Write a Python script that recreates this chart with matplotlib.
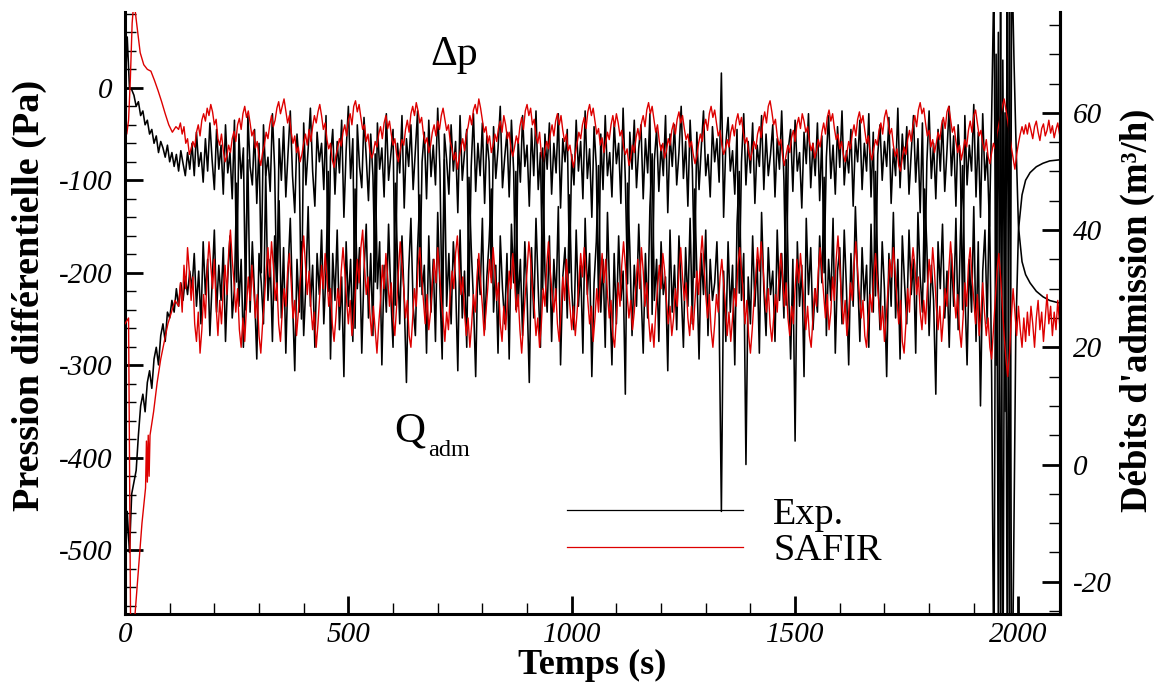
import numpy as np
import matplotlib
matplotlib.use("Agg")
import matplotlib.pyplot as plt
from matplotlib.ticker import MultipleLocator
from matplotlib.lines import Line2D

plt.rcParams['font.family'] = ['Liberation Serif', 'DejaVu Serif']

# ---------------- data ----------------
# Experimental differential pressure (Pa), 5 s sampling from t=0 to 1985 s
exp_t0, exp_dt = 0, 5
dp_exp = [
    -5, 55, 0, -2, -8, -20, -15, -30, -25, -40, -35, -50, -45, -60, -52, -70, -58, -65, -75, -62,
    -80, -70, -85, -72, -90, -68, -82, -95, -70, -88,
    -60, -95, -48, -85, -70, -102, -55, -90, -38, -78, -110, -45, -88, -62, -115, -40, -92, -70, -120, -35,
    -210, -50, -98, -65, -240, -30, -85, -105, -45, -125, -60, -200, -40, -95, -75, -112, -28, -88, -230, -55,
    -100, -42, -118, -70, -25, -95, -135, -50, -82, -250, -38, -105, -66, -22, -90, -128, -48, -80, -60, -110,
    -30, -220, -75, -45, -115, -58, -92, -35, -140, -68, -20, -98, -55, -260, -40, -85, -108, -32, -75, -122,
    -50, -95, -210, -38, -88, -65, -118, -28, -100, -72, -45, -235, -60, -92, -30, -130, -55, -85, -40, -110,
    -68, -25, -215, -80, -48, -120, -35, -96, -62, -105, -22, -88, -250, -50, -78, -115, -40, -90, -58, -135,
    -30, -100, -70, -45, -225, -85, -28, -112, -60, -95, -38, -125, -52, -80, -205, -42, -98, -66, -20, -108,
    -75, -48, -118, -35, -90, -240, -55, -102, -30, -85, -62, -128, -44, -95, -25, -110, -70, -218, -50, -88,
    -38, -115, -60, -92, -28, -130, -55, -80, -45, -200, -72, -105, -35, -90, -58, -120, -25, -98, -66, -140,
    -42, -85, -230, -50, -110, -30, -95, -70, -118, -38, -82, -60, -125, -22, -100, -212, -48, -88, -35, -108,
    -65, -40, -120, -55, -92, -28, -245, -78, -45, -112, -62, -95, -30, -135, -50, -85, -40, -105, -70, -20,
    -98, -58, -128, -35, -88, -205, -48, -110, -65, -25, -95, -72, -118, -42, -80, -55, -102, 16, -140, -60,
    -32, -90, -68, -115, -45, -222, -80, -28, -105, -58, -92, -38, -125, -62, -85, -30, -110, -50, -95, -72,
    -40, -118, -55, -88, -25, -100, -235, -65, -45, -112, -35, -90, -70, -130, -48, -82, -28, -108, -60, -95,
    -38, -122, -52, -200, -75, -30, -98, -62, -115, -42, -86, -25, -105, -68, -92, -45, -128, -55, -80, -35,
    -110, -60, -90, -28, -118, -48, -225, -72, -40, -100, -58, -85, -32, -125, -66, -95, -22, -108, -50, -88,
    -42, -115, -70, -30, -102, -55, -135, -38, -210, -80, -25, -98, -60, -120, -45, -90, -35, -112, -68, -20,
    -95, -52, -128, -40, -85, -240, -30, -105, -62, -90, -18, -118, -48, -140, -28, -100, -70, -150,
    -30, 120, -300, 60, -600, 30, -350, 100, -620, 150,
]
# after fan shutdown (explicit times)
dp_exp_tail_t = [1990, 1994, 2000, 2008, 2016, 2026, 2040, 2055, 2070, 2094]
dp_exp_tail = [30, -50, -150, -188, -202, -211, -220, -226, -230, -233]

# Experimental admission flow rate (m3/h), 5 s sampling from t=0 to 1985 s
q_exp = [
    -20, -8, -15, -5, -3, -1, 5, 10, 12, 9, 14, 16, 13, 18, 20, 17, 22, 24, 21, 26,
    25, 28, 26, 30, 27, 31, 28, 32, 29, 33,
    30, 36, 27, 33, 24, 38, 29, 35, 22, 31, 40, 26, 34, 28, 37, 21, 32, 39, 25, 30,
    48, 27, 35, 20, 33, 52, 26, 38, 29, 18, 36, 31, 24, 50, 28, 35, 21, 39, 30, 45,
    25, 37, 19, 33, 42, 28, 16, 35, 26, 38, 22, 31, 44, 27, 34, 20, 36, 29, 40, 24,
    33, 50, 18, 36, 28, 40, 23, 32, 15, 38, 27, 35, 21, 47, 30, 37, 19, 33, 41, 25,
    36, 22, 53, 30, 38, 17, 34, 26, 41, 29, 20, 48, 35, 24, 39, 28, 14, 33, 42, 27,
    22, 37, 46, 29, 34, 19, 39, 26, 35, 21, 43, 30, 18, 52, 27, 36, 24, 38, 31, 16,
    40, 25, 33, 20, 49, 37, 28, 15, 35, 29, 42, 23, 32, 38, 47, 26, 34, 19, 39, 30,
    24, 36, 18, 41, 31, 50, 27, 35, 22, 38, 29, 14, 37, 25, 42, 30, 20, 54, 33, 26,
    39, 21, 35, 28, 44, 17, 32, 37, 25, 46, 30, 23, 40, 27, 34, 19, 42, 29, 36, 15,
    31, 38, 51, 26, 35, 20, 43, 29, 17, 36, 24, 39, 28, 33, 12, 48, 37, 22, 34, 27,
    41, 30, 19, 36, 25, 44, 53, 28, 35, 21, 38, 29, 32, 16, 40, 26, 34, 23, 39, 30,
    20, 37, 27, 42, 24, 47, 33, 18, 36, 29, 40, 22, 35, 28, 31, 38, 25, -8, 33, 21,
    38, 26, 34, 17, 41, 50, 28, 36, 0, 32, 24, 39, 27, 35, 19, 43, 30, 22, 37, 29,
    33, 21, 40, 28, 36, 25, 52, 31, 18, 35, 4, 38, 27, 34, 15, 42, 29, 37, 23, 30,
    26, 39, 31, 49, 22, 35, 28, 42, 19, 33, 37, 24, 40, 30, 17, 36, 27, 44, 32, 21,
    37, 28, 34, 20, 41, 26, 50, 33, 23, 38, 30, 15, 36, 27, 43, 25, 35, 18, 39, 31,
    24, 40, 29, 35, 19, 43, 32, 26, 47, 37, 22, 34, 28, 12, 38, 30, 41, 25, 33, 20,
    36, 27, 42, 23, 39, 51, 30, 17, 35, 26, 44, 21, 38, 10, 33, 40, 24, 46,
    15, -40, 70, -30, 85, -45, 60, -35, 90, -50,
]
q_exp_tail_t = [1990, 1994, 2000, 2008, 2016, 2026, 2040, 2055, 2070, 2094]
q_exp_tail = [-10, 22, 40, 46, 48.5, 49.8, 50.8, 51.4, 51.8, 52]

# SAFIR differential pressure (Pa): start-up points, then 4 s sampling from t=120 s
dp_safir_start_t = [0, 4, 8, 12, 16, 20, 26, 34, 42, 50, 58, 66, 74, 82, 90, 98, 106, 114]
dp_safir_start = [-10, -50, -35, 10, 70, 95, 70, 38, 25, 20, 18, 8, -3, -15, -28, -40, -48, -42]
safir_t0, safir_dt = 120, 4
dp_safir = [
    -45, -38, -50, -42, -60, -55, -72, -66, -58, -64, -48, -40, -52, -35, -28, -36, -22, -30, -18, -26, -40, -34, -55, -62, -50,
    -68, -80, -74, -62, -70, -55, -47, -58, -40, -33, -45, -28, -20, -32, -25, -38, -52, -46, -65, -58, -75, -84, -70, -62, -48,
    -55, -40, -30, -42, -35, -22, -15, -28, -20, -12, -25, -38, -30, -48, -60, -52, -70, -64, -80, -72, -60, -50, -62, -45, -58,
    -42, -30, -38, -26, -18, -30, -45, -38, -56, -66, -60, -78, -86, -74, -65, -55, -63, -48, -40, -52, -35, -28, -40, -20, -14,
    -26, -18, -32, -45, -40, -58, -50, -68, -76, -70, -58, -64, -50, -42, -55, -38, -30, -44, -36, -50, -62, -55, -72, -80, -68,
    -56, -62, -45, -35, -48, -28, -20, -30, -16, -25, -38, -32, -50, -60, -54, -70, -62, -48, -40, -52, -36, -45, -30, -22, -34,
    -46, -40, -58, -66, -78, -70, -88, -76, -64, -55, -68, -50, -42, -30, -40, -24, -18, -28, -12, -22, -35, -48, -42, -60, -52,
    -70, -62, -50, -58, -44, -36, -48, -30, -40, -55, -48, -66, -74, -64, -52, -60, -42, -32, -45, -25, -18, -30, -22, -40, -34,
    -52, -60, -48, -72, -80, -68, -58, -66, -50, -40, -52, -36, -28, -40, -30, -46, -58, -50, -68, -62, -76, -86, -72, -60, -48,
    -55, -40, -32, -44, -26, -18, -30, -22, -36, -50, -44, -62, -54, -70, -60, -48, -56, -40, -30, -42, -28, -38, -52, -46, -64,
    -72, -66, -84, -76, -62, -70, -54, -44, -56, -38, -30, -42, -24, -16, -28, -20, -34, -48, -40, -58, -68, -60, -76, -68, -55,
    -62, -46, -38, -50, -34, -26, -38, -30, -44, -56, -50, -64, -58, -72, -82, -74, -60, -50, -58, -42, -34, -46, -28, -20, -32,
    -24, -38, -52, -46, -62, -72, -66, -56, -64, -48, -40, -52, -36, -28, -40, -32, -48, -60, -54, -70, -78, -68, -58, -66, -50,
    -42, -54, -36, -26, -38, -20, -14, -26, -40, -34, -52, -62, -56, -74, -84, -72, -62, -70, -54, -46, -58, -40, -32, -44, -28,
    -36, -48, -42, -58, -68, -60, -76, -68, -56, -64, -48, -38, -50, -32, -24, -36, -28, -44, -56, -50, -66, -58, -72, -80, -70,
    -58, -66, -50, -40, -52, -34, -26, -38, -30, -46, -60, -52, -70, -78, -66, -56, -62, -46, -38, -50, -32, -24, -36, -50, -44,
    -62, -74, -66, -84, -90, -76, -64, -72, -56, -46, -58, -40, -30, -42, -24, -16, -28, -22, -38, -52, -46, -64, -56, -70, -60,
    -48, -56, -40, -32, -44, -26, -20, -34, -48, -42, -58, -70, -62, -78, -68, -56, -64, -46, -36, -48, -30, -24, -38, -52, -46,
    -60, -68, -56, -74, -82, -70, -60, -66, -50, -40, -30, -20, -12, -24, -36, -50, -64, -76, -88, -72, -60, -50, -42, -50, -40,
    -50, -38, -46, -55, -42, -36, -48, -57, -44, -39, -52, -46, -35, -49, -41, -54, -45, -38, -50,
]

# SAFIR admission flow rate (m3/h): start-up points, then 4 s sampling from t=120 s
q_safir_start_t = [0, 8, 11, 14, 18, 22, 30, 38, 46, 48, 50, 52, 54, 56, 64, 72, 80, 88, 96, 104, 112]
q_safir_start = [24, 25, -10, -45, -38, -26, -18, -10, -4, 4, -3, 5, -2, 5, 9, 14, 18, 21, 24, 26, 28]
q_safir = [
    27, 31, 26, 34, 30, 37, 33, 28, 32, 24, 21, 26, 19, 23, 29, 25, 33, 38, 34, 30, 35, 27, 22, 28, 24,
    30, 34, 29, 36, 40, 35, 31, 26, 30, 23, 20, 25, 21, 27, 32, 28, 34, 30, 25, 29, 22, 19, 24, 28, 33,
    37, 32, 38, 34, 28, 31, 24, 21, 26, 30, 27, 33, 36, 31, 25, 28, 22, 26, 31, 35, 39, 34, 29, 33, 27,
    23, 26, 20, 24, 29, 34, 30, 36, 32, 27, 30, 24, 21, 25, 30, 27, 33, 37, 33, 28, 24, 28, 22, 25, 30,
    35, 31, 37, 40, 34, 29, 32, 26, 22, 27, 23, 19, 24, 28, 34, 30, 36, 32, 27, 31, 25, 22, 27, 33, 38,
    34, 30, 25, 28, 22, 20, 25, 30, 27, 34, 37, 32, 28, 24, 29, 23, 26, 31, 35, 31, 37, 33, 28, 25, 21,
    26, 23, 29, 33, 30, 36, 39, 34, 29, 32, 26, 22, 25, 20, 24, 29, 26, 32, 36, 31, 27, 22, 26, 30, 35,
    31, 37, 33, 28, 31, 24, 21, 27, 23, 28, 33, 30, 36, 32, 26, 29, 23, 19, 24, 29, 33, 38, 35, 30, 27,
    22, 25, 20, 24, 30, 27, 34, 38, 33, 29, 26, 30, 24, 21, 26, 32, 28, 35, 31, 27, 23, 27, 22, 26, 31,
    36, 32, 37, 33, 28, 24, 27, 21, 25, 30, 26, 32, 36, 31, 35, 29, 25, 28, 22, 20, 25, 31, 27, 34, 38,
    34, 29, 25, 28, 23, 26, 31, 35, 30, 37, 33, 27, 31, 25, 21, 24, 20, 26, 30, 34, 30, 36, 33, 28, 24,
    27, 22, 25, 30, 27, 33, 37, 32, 28, 31, 25, 22, 27, 23, 28, 33, 29, 35, 39, 34, 29, 25, 29, 23, 20,
    24, 29, 26, 32, 35, 31, 27, 22, 26, 21, 25, 30, 27, 34, 37, 33, 29, 24, 28, 22, 19, 23, 28, 32, 37,
    33, 38, 34, 29, 26, 30, 24, 21, 25, 29, 26, 32, 36, 32, 27, 31, 25, 22, 27, 24, 30, 35, 31, 36, 32,
    27, 23, 27, 22, 20, 25, 30, 27, 33, 37, 33, 29, 25, 29, 23, 26, 32, 28, 35, 39, 34, 28, 24, 28, 22,
    26, 31, 28, 34, 38, 33, 29, 25, 28, 22, 20, 25, 29, 26, 32, 36, 31, 27, 23, 27, 21, 25, 30, 35, 32,
    37, 33, 28, 24, 28, 21, 19, 24, 30, 26, 33, 37, 34, 29, 32, 26, 23, 28, 24, 30, 35, 31, 37, 33, 27,
    23, 27, 21, 25, 30, 27, 33, 38, 34, 29, 25, 29, 23, 20, 25, 31, 27, 34, 37, 32, 28, 24, 29, 22, 26,
    31, 26, 22, 25, 20, 18, 23, 28, 33, 36, 32, 27, 22, 18, 15, 19, 25, 30, 26, 22, 27, 23, 20, 25, 21,
    26, 22, 27, 24, 20, 25, 28, 23, 26, 21, 25, 29, 24, 27, 22, 26, 23, 28, 24,
]

x_ticks = [0, 500, 1000, 1500, 2000]
dp_ticks = [0, -100, -200, -300, -400, -500]
q_ticks = [-20, 0, 20, 40, 60]

# ---------------- assemble series ----------------
t_dp_exp = np.concatenate([exp_t0 + exp_dt * np.arange(len(dp_exp)), dp_exp_tail_t])
y_dp_exp = np.concatenate([dp_exp, dp_exp_tail])
t_q_exp = np.concatenate([exp_t0 + exp_dt * np.arange(len(q_exp)), q_exp_tail_t])
y_q_exp = np.concatenate([q_exp, q_exp_tail])
t_dp_saf = np.concatenate([dp_safir_start_t, safir_t0 + safir_dt * np.arange(len(dp_safir))])
y_dp_saf = np.concatenate([dp_safir_start, dp_safir])
t_q_saf = np.concatenate([q_safir_start_t, safir_t0 + safir_dt * np.arange(len(q_safir))])
y_q_saf = np.concatenate([q_safir_start, q_safir])

# ---------------- figure ----------------
W, H = 1157, 687
fig = plt.figure(figsize=(W / 100, H / 100), dpi=100)
ax = fig.add_axes([125 / W, 1 - 614 / H, 935 / W, 602 / H])
ax2 = ax.twinx()

RED = '#dd0000'
ax.plot(t_dp_exp, y_dp_exp, color='black', lw=1.15)
ax.plot(t_dp_saf, y_dp_saf, color=RED, lw=1.0)
ax2.plot(t_q_exp, y_q_exp, color='black', lw=1.15)
ax2.plot(t_q_saf, y_q_saf, color=RED, lw=1.0)

ax.set_xlim(0, 2093)
ax.set_ylim(-569, 82)
ax2.set_ylim(-25.5, 77.2)

for a in (ax, ax2):
    a.spines['top'].set_visible(False)
    for s in ('left', 'right', 'bottom'):
        a.spines[s].set_linewidth(2.2)
ax2.spines['left'].set_visible(False)
ax2.spines['bottom'].set_visible(False)

TICK_FS = 21
ax.set_xticks(x_ticks)
ax.set_xticklabels([str(v) for v in x_ticks], fontstyle='italic', fontsize=TICK_FS)
ax.set_yticks(dp_ticks)
ax.set_yticklabels([str(v) for v in dp_ticks], fontstyle='italic', fontsize=TICK_FS)
ax2.set_yticks(q_ticks)
ax2.set_yticklabels([str(v) for v in q_ticks], fontstyle='italic', fontsize=TICK_FS)
ax.xaxis.set_minor_locator(MultipleLocator(100))
ax.yaxis.set_minor_locator(MultipleLocator(20))
ax2.yaxis.set_minor_locator(MultipleLocator(5))

ax.tick_params(axis='both', which='major', direction='in', length=13, width=2)
ax.tick_params(axis='both', which='minor', direction='in', length=8, width=1)
ax.tick_params(axis='x', which='both', top=False, pad=6)
ax.tick_params(axis='y', which='both', right=False, pad=9)
ax2.tick_params(axis='y', which='major', direction='in', length=13, width=2, pad=9)
ax2.tick_params(axis='y', which='minor', direction='in', length=8, width=1)

ax.set_xlabel('Temps (s)', fontsize=26, fontweight='bold')
ax.xaxis.set_label_coords(0.5, -0.058)
ax.set_ylabel('Pression différentielle (Pa)', fontsize=27.5, fontweight='bold')
ax.yaxis.set_label_coords(-0.083, 0.53)
ax2.set_ylabel("Débits d'admission (m³/h)", fontsize=26.5, fontweight='bold')
ax2.yaxis.set_label_coords(1.064, 0.505)

# annotations
fig.text(430 / W, 1 - 65 / H, 'Δp', fontsize=30, ha='left', va='baseline')
fig.text(394 / W, 1 - 441 / H, 'Q', fontsize=31, ha='left', va='baseline')
fig.text(428 / W, 1 - 456 / H, 'adm', fontsize=17.5, ha='left', va='baseline')

handles = [Line2D([], [], color='black', lw=0.9), Line2D([], [], color=RED, lw=0.9)]
leg = ax.legend(handles, ['Exp.', 'SAFIR'], loc='upper left',
                bbox_to_anchor=(567 / W, 1 - 497 / H), bbox_transform=fig.transFigure,
                frameon=False, fontsize=27.5, handlelength=4.6, handletextpad=0.8,
                labelspacing=0.05, borderpad=0, borderaxespad=0)

fig.savefig('out.png', dpi=100)
